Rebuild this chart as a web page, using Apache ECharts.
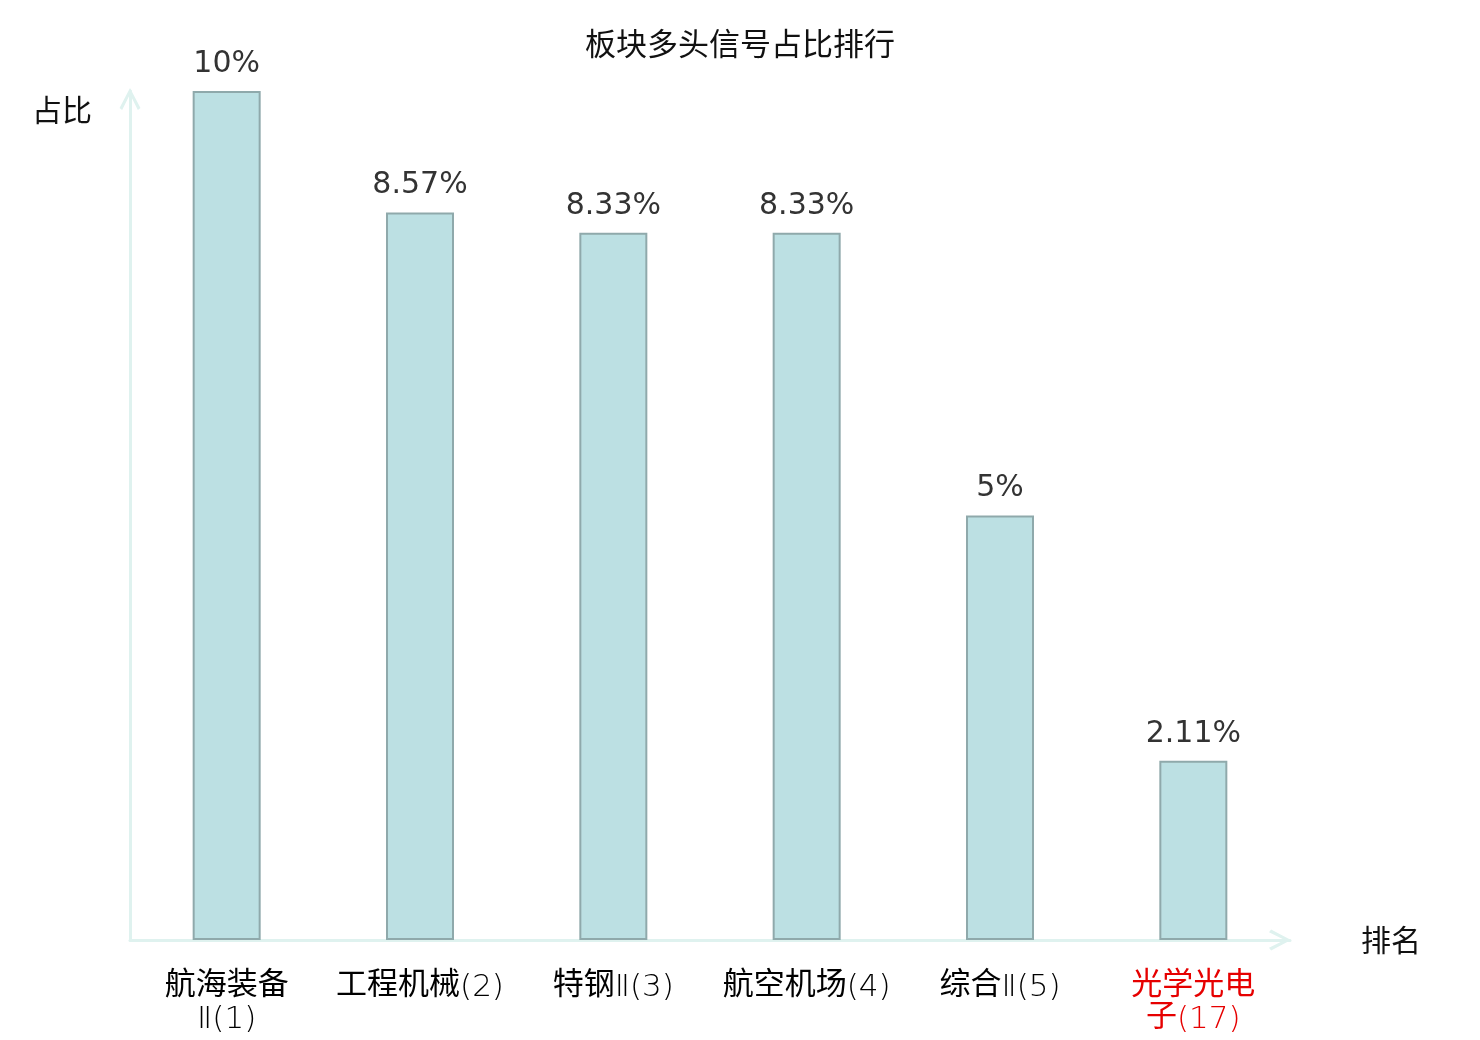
<!DOCTYPE html>
<html>
<head>
<meta charset="utf-8">
<script src="https://cdn.jsdelivr.net/npm/echarts@6/dist/echarts.min.js"></script>
<style>
  html, body { margin: 0; padding: 0; background: #fff; }
  #chart-container { width: 1480px; height: 1040px; }
</style>
</head>
<body>
<div id="chart-container"></div>
<script>
var categories = ['航海装备\nⅡ(1)', '工程机械(2)', '特钢Ⅱ(3)', '航空机场(4)', '综合Ⅱ(5)', '光学光电\n子(17)'];
var ratios = [10, 8.57, 8.33, 8.33, 5, 2.11];
var labelColors = ['#000', '#000', '#000', '#000', '#000', '#e60000'];

var dom = document.getElementById('chart-container');
var myChart = echarts.init(dom, null, { renderer: 'canvas' });

var arrowPath = 'path://M10,0 L20,19 L17.5,21 L10,6 L2.5,21 L0,19 Z';
var axisColor = '#dff2ef';

var option = {
  animation: false,
  title: {
    text: '板块多头信号占比排行',
    left: 'center',
    top: 23,
    textStyle: {
      fontFamily: 'Noto Sans CJK SC',
      fontSize: 31,
      fontWeight: 'normal',
      color: '#111'
    }
  },
  grid: {
    left: 130,
    right: 190,
    top: 91,
    bottom: 100
  },
  xAxis: {
    type: 'category',
    data: categories,
    name: '排名',
    nameLocation: 'end',
    nameGap: 71,
    nameTextStyle: {
      fontFamily: 'Noto Sans CJK SC',
      fontSize: 30,
      color: '#111'
    },
    axisLine: {
      lineStyle: { color: axisColor, width: 3 },
      symbol: ['none', arrowPath],
      symbolSize: [22, 22],
      symbolOffset: [0, -10]
    },
    axisTick: { show: false },
    axisLabel: {
      interval: 0,
      margin: 26,
      fontFamily: 'Noto Sans CJK SC',
      fontSize: 31,
      lineHeight: 32,
      color: function (value, index) {
        return labelColors[index];
      },
      // 数字、括号用细体
      formatter: function (value) {
        return value.split('\n').map(function (line) {
          return line.replace(/([\u4e00-\u9fff]+)/g, '{c|$1}')
            .replace(/([^\u4e00-\u9fff{}|c]+)(?=\{|$)/g, '{t|$1}');
        }).join('\n');
      },
      rich: {
        c: {
          fontFamily: 'Noto Sans CJK SC',
          fontSize: 31,
          lineHeight: 32
        },
        t: {
          fontFamily: 'DejaVu Sans',
          fontWeight: 200,
          fontSize: 31,
          lineHeight: 32,
          padding: [12, 0, 0, 0]
        }
      }
    }
  },
  yAxis: {
    type: 'value',
    min: 0,
    max: 10,
    name: '占比',
    nameLocation: 'end',
    nameGap: -19,
    nameTextStyle: {
      fontFamily: 'Noto Sans CJK SC',
      fontSize: 30,
      color: '#111',
      align: 'right',
      verticalAlign: 'middle',
      padding: [0, 38, 0, 0]
    },
    axisLine: {
      show: true,
      lineStyle: { color: axisColor, width: 3 },
      symbol: ['none', arrowPath],
      symbolSize: [22, 22],
      symbolOffset: [0, -8]
    },
    axisTick: { show: false },
    axisLabel: { show: false },
    splitLine: { show: false }
  },
  series: [
    {
      type: 'bar',
      data: ratios,
      barWidth: 68,
      itemStyle: {
        color: '#bce0e3',
        borderColor: '#8fa9ab',
        borderWidth: 2
      },
      label: {
        show: true,
        position: 'top',
        distance: 12,
        fontFamily: 'DejaVu Sans',
        fontSize: 30,
        color: '#333',
        formatter: function (params) {
          return params.value + '%';
        }
      }
    }
  ]
};

myChart.setOption(option);
window.addEventListener('resize', myChart.resize);
</script>
</body>
</html>
